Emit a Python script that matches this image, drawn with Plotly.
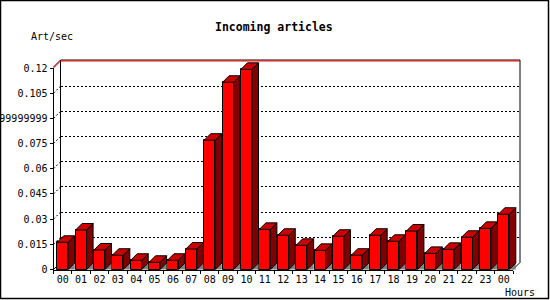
import plotly.graph_objects as go

# ---- data ----
hours = ["00", "01", "02", "03", "04", "05", "06", "07", "08", "09", "10", "11",
         "12", "13", "14", "15", "16", "17", "18", "19", "20", "21", "22", "23", "00"]
art_per_sec = [0.0162, 0.0235, 0.0116, 0.0085, 0.0055, 0.0043, 0.0055, 0.0122,
               0.0770, 0.1115, 0.1192, 0.0239, 0.0204, 0.0144, 0.0114, 0.0198,
               0.0085, 0.0204, 0.0168, 0.0229, 0.0096, 0.0120, 0.0192, 0.0245, 0.0329]
y_tickvals = [0, 0.015, 0.03, 0.045, 0.06, 0.075, 0.09, 0.105, 0.12]
y_ticktext = ["0", "0.015", "0.03", "0.045", "0.06", "0.075", "0.0899999999", "0.105", "0.12"]

# ---- geometry (pixels) ----
W, H = 550, 300
FX0, FX1 = 53.5, 513.0      # front x extent for [-0.5, 24.5]
FY0, FY1 = 269.5, 68.0      # front y for 0 and 0.12
YMAX = 0.12
WD = 7.0                    # wall depth
BD = 6.5                    # bar depth
BW = 0.6                    # bar width (category units)

n = len(hours)
idx = list(range(n))
sx = (FX1 - FX0) / n
sy = (FY0 - FY1) / YMAX
dx = BD / sx
dy = BD / sy

def px(x):
    return x / W

def py(y):
    return 1 - y / H

FONT = "DejaVu Sans Mono"

fig = go.Figure()

shadow_x, shadow_y, side_x, side_y, top_x, top_y = [], [], [], [], [], []
for i, v in zip(idx, art_per_sec):
    l, r = i - BW / 2, i + BW / 2
    shadow_x += [r, r + dx, r + dx, r, None]
    shadow_y += [0, dy, 0, 0, None]
    side_x += [r, r + dx, r + dx, r, r, None]
    side_y += [v, v + dy, dy, 0, v, None]
    top_x += [l, l + dx, r + dx, r, l, None]
    top_y += [v, v + dy, v + dy, v, v, None]

for xa, ya in (("x", "y"), ("x3", "y"), ("x2", "y2")):
    fig.add_trace(go.Scatter(x=[0], y=[0], xaxis=xa, yaxis=ya, mode="markers",
                             marker=dict(opacity=0), hoverinfo="skip", showlegend=False))

fig.add_trace(go.Bar(x=idx, y=art_per_sec, width=BW, xaxis="x4", yaxis="y4",
                     marker=dict(color="#FF0000", line=dict(color="black", width=1)),
                     hoverinfo="skip", showlegend=False))
fig.add_trace(go.Scatter(x=shadow_x, y=shadow_y, xaxis="x4", yaxis="y4", mode="lines",
                         fill="toself", fillcolor="#808080", line=dict(width=0, color="#808080"),
                         hoverinfo="skip", showlegend=False))
fig.add_trace(go.Scatter(x=side_x, y=side_y, xaxis="x4", yaxis="y4", mode="lines",
                         fill="toself", fillcolor="#800000", line=dict(width=1, color="black"),
                         hoverinfo="skip", showlegend=False))
fig.add_trace(go.Scatter(x=top_x, y=top_y, xaxis="x4", yaxis="y4", mode="lines",
                         fill="toself", fillcolor="#CC0000", line=dict(width=1, color="black"),
                         hoverinfo="skip", showlegend=False))

x4_range = [-0.5 - FX0 / sx, -0.5 + (W - FX0) / sx]
y4_range = [-(H - FY0) / sy, FY0 / sy]

tickfont = dict(family=FONT, size=10, color="black")

fig.update_layout(
    width=W, height=H,
    margin=dict(l=0, r=0, t=0, b=0, autoexpand=False),
    paper_bgcolor="white", plot_bgcolor="rgba(0,0,0,0)",
    bargap=0,
    xaxis=dict(domain=[px(FX0), px(FX1)], range=[-0.5, n - 0.5], anchor="y",
               automargin=False,
               showline=True, linecolor="black", linewidth=1,
               tickmode="array", tickvals=[i - 0.5 for i in range(n + 1)],
               showticklabels=False, ticks="outside", ticklen=3, tickcolor="black",
               showgrid=False, zeroline=False, fixedrange=True),
    xaxis3=dict(overlaying="x", anchor="y", range=[-0.5, n - 0.5], automargin=False,
                tickmode="array", tickvals=idx, ticktext=hours, ticks="",
                ticklabelstandoff=2,
                showline=False, showgrid=False, zeroline=False, tickfont=tickfont,
                fixedrange=True),
    yaxis=dict(domain=[py(FY0), py(FY1)], range=[0, YMAX], anchor="x",
               automargin=False,
               showline=True, linecolor="black", linewidth=1,
               tickmode="array", tickvals=y_tickvals, ticktext=y_ticktext,
               ticks="outside", ticklen=3, tickcolor="black", tickfont=tickfont,
               showgrid=False, zeroline=False, fixedrange=True),
    xaxis2=dict(domain=[px(FX0 + WD), px(FX1 + WD)], range=[-0.5, n - 0.5], anchor="y2",
                automargin=False,
                showline=False, showgrid=False, showticklabels=False, ticks="",
                zeroline=False, fixedrange=True),
    yaxis2=dict(domain=[py(FY0 - WD), py(FY1 - WD)], range=[0, YMAX], anchor="x2",
                automargin=False,
                tickmode="array", tickvals=y_tickvals[1:-1], showticklabels=False,
                ticks="", showgrid=True, gridcolor="black", gridwidth=1,
                griddash="2px,2px", showline=False, zeroline=False, fixedrange=True),
    xaxis4=dict(domain=[0, 1], range=x4_range, anchor="y4", visible=False,
                automargin=False, fixedrange=True),
    yaxis4=dict(domain=[0, 1], range=y4_range, anchor="x4", visible=False,
                automargin=False, fixedrange=True),
)

shapes = []
def line(x0, y0, x1, y1, color="black", dash=None, width=1):
    d = dict(type="line", xref="paper", yref="paper", x0=px(x0), y0=py(y0),
             x1=px(x1), y1=py(y1), line=dict(color=color, width=width), layer="below")
    if dash:
        d["line"]["dash"] = dash
    shapes.append(d)

BX0, BX1 = FX0 + WD, FX1 + WD
BTOP = FY1 - WD
BBOT = FY0 - WD
line(BX0, BBOT, BX0, BTOP - 1)
line(BX0, BTOP - 1, BX1, BTOP - 1)
line(BX1, BTOP - 1, BX1, BBOT)
line(BX1, BBOT, FX1, FY0)
line(FX0, FY0, BX0, BBOT)
line(FX0, FY1 - 1, BX0, BTOP - 1)
line(FX0, FY1, BX0, BTOP, color="red")
line(BX0, BTOP, BX1, BTOP, color="red")
for v in y_tickvals[1:-1]:
    yy = FY0 - v * sy
    line(FX0, yy, FX0 + WD, yy - WD, dash="2px,2px")
shapes.append(dict(type="rect", xref="paper", yref="paper", x0=px(0.5), y0=py(298.5),
                   x1=px(548.5), y1=py(0.5), line=dict(color="black", width=1.5),
                   layer="below"))
fig.update_layout(shapes=shapes)

fig.add_annotation(x=px(274), y=py(27), xref="paper", yref="paper", showarrow=False,
                   text="<b>Incoming articles</b>", xanchor="center", yanchor="middle",
                   font=dict(family=FONT, size=11.5, color="black"))
fig.add_annotation(x=px(29), y=py(37), xref="paper", yref="paper", showarrow=False,
                   text="Art/sec", xanchor="left", yanchor="middle", font=tickfont)
fig.add_annotation(x=px(503), y=py(292), xref="paper", yref="paper", showarrow=False,
                   text="Hours", xanchor="left", yanchor="middle", font=tickfont)

fig.write_html("out.html")
